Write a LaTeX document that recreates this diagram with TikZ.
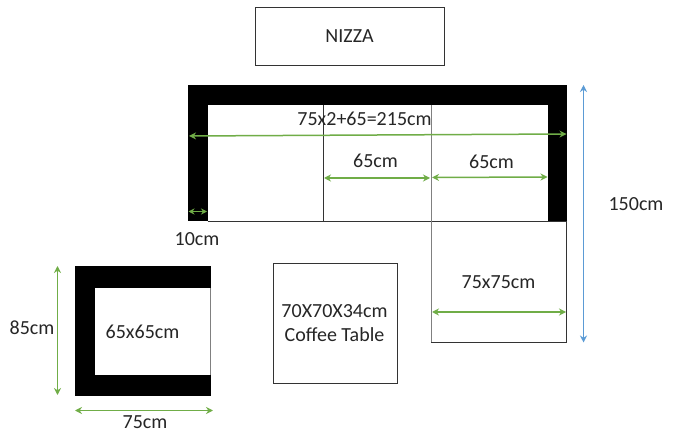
\documentclass[tikz,border=0pt]{standalone}
\usepackage{fontspec}
\setmainfont{Carlito}
\usetikzlibrary{arrows.meta}
\definecolor{dimgreen}{HTML}{70AD47}
\definecolor{dimblue}{HTML}{5B9BD5}
\definecolor{boxline}{HTML}{333333}
\tikzset{
  x=1pt,y=-1pt,
  lbl/.style={font=\fontsize{20}{24.5}\selectfont,text=black!85,inner sep=0pt,align=center},
  dim/.style={draw=dimgreen,line width=1.5pt,{Stealth[length=7pt,width=7pt]}-{Stealth[length=7pt,width=7pt]}},
  dimb/.style={dim,draw=dimblue},
  box/.style={draw=boxline,line width=0.8pt,fill=white},
  solid black/.style={fill=black,draw=none}
}
\begin{document}
\begin{tikzpicture}
\useasboundingbox (0,0) rectangle (677,435);
% Nizza
\draw[box] (255,7) rectangle (444,65);
\node[lbl] (nizza) at (349.5,36) {NIZZA};
% sofa
\fill[solid black] (188,85.5) rectangle (566.5,221);
\fill[white] (207.5,105) rectangle (548,221);
\draw[box,fill=none] (207.5,221) -- (566.5,221);
\draw[box] (431,221) rectangle (566.5,342);
\draw[boxline,line width=0.8pt] (323.5,105) -- (323.5,221);
\draw[gray,line width=0.8pt] (431,105) -- (431,342);
% armchair
\fill[solid black] (75,266) rectangle (211,396);
\fill[white] (94.5,288) rectangle (210,375);
\draw[gray,line width=0.8pt] (210.3,288) -- (210.3,375);
% coffee table
\draw[box] (273,263) rectangle (397,383);
% anchors
\coordinate (a1) at (189,136); \coordinate (a2) at (566.5,134);
\coordinate (b1) at (324,178); \coordinate (b2) at (430,178);
\coordinate (c1) at (432,177.5); \coordinate (c2) at (547.5,177);
\coordinate (d1) at (188.5,211.5); \coordinate (d2) at (207,211.5);
\coordinate (e1) at (432,312); \coordinate (e2) at (566,312);
\coordinate (f1) at (583.5,85); \coordinate (f2) at (583.5,342.5);
\coordinate (g1) at (57.5,266); \coordinate (g2) at (57.5,395);
\coordinate (h1) at (75,410.5); \coordinate (h2) at (213,410.5);
\draw[dim] (a1) -- (a2);
\draw[dim] (b1) -- (b2);
\draw[dim] (c1) -- (c2);
\draw[dim,{Stealth[length=6pt,width=6pt]}-{Stealth[length=6pt,width=6pt]}] (d1) -- (d2);
\draw[dim] (e1) -- (e2);
\draw[dimb] (f1) -- (f2);
\draw[dim] (g1) -- (g2);
\draw[dim] (h1) -- (h2);
% labels
\node[lbl] (l1) at (364.5,118.5) {75x2+65=215cm};
\node[lbl] (l2) at (375.5,161) {65cm};
\node[lbl] (l3) at (491.5,162) {65cm};
\node[lbl] (l4) at (197,239) {10cm};
\node[lbl] (l5) at (636,204.5) {150cm};
\node[lbl] (l6) at (498.5,282.5) {75x75cm};
\node[lbl] (l7) at (334.5,323) {70X70X34cm\\Coffee Table};
\node[lbl] (l8) at (142.5,331.5) {65x65cm};
\node[lbl] (l9) at (32,328) {85cm};
\node[lbl] (l10) at (145,422) {75cm};
\end{tikzpicture}
\end{document}
